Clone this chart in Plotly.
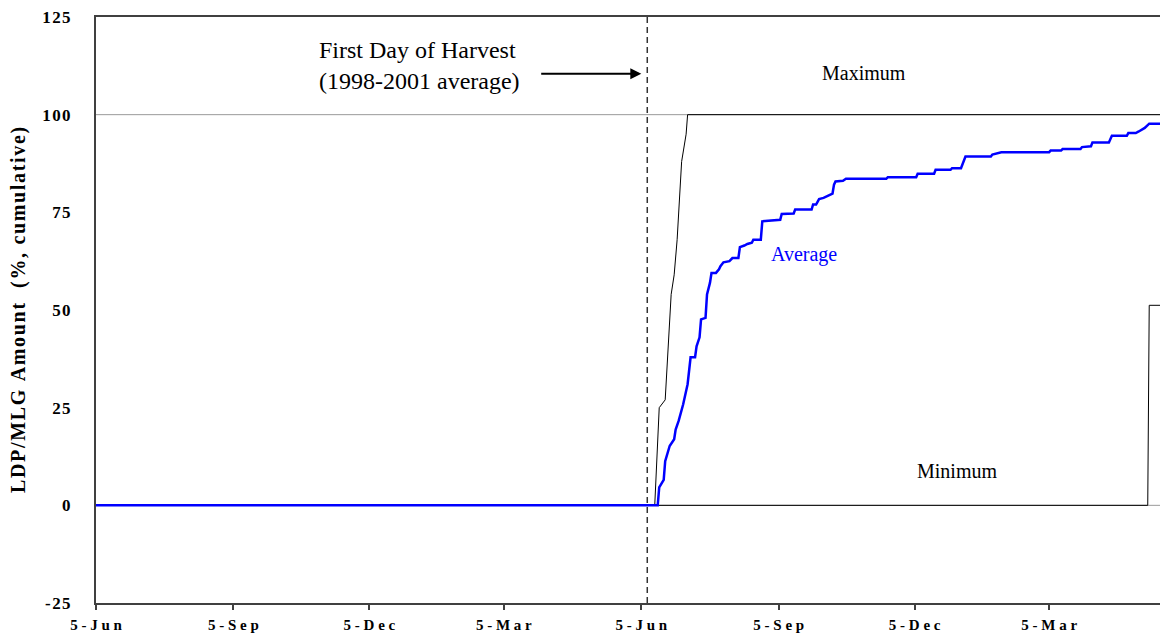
import plotly.graph_objects as go

# ---------------- data ----------------
avg_dates = ["2001-06-05", "2002-06-16", "2002-06-17", "2002-06-20", "2002-06-21", "2002-06-24",
             "2002-06-27", "2002-06-28", "2002-06-30", "2002-07-03", "2002-07-06", "2002-07-07",
             "2002-07-08", "2002-07-11", "2002-07-12", "2002-07-14", "2002-07-15", "2002-07-18",
             "2002-07-19", "2002-07-21", "2002-07-22", "2002-07-25", "2002-07-27", "2002-07-28",
             "2002-07-30", "2002-08-03", "2002-08-05", "2002-08-09", "2002-08-10", "2002-08-13",
             "2002-08-15", "2002-08-18", "2002-08-19", "2002-08-24", "2002-08-25", "2002-09-06",
             "2002-09-07", "2002-09-15", "2002-09-16", "2002-09-27", "2002-09-28", "2002-09-30",
             "2002-10-02", "2002-10-05", "2002-10-08", "2002-10-11", "2002-10-12", "2002-10-13",
             "2002-10-18", "2002-10-20", "2002-11-16", "2002-11-17", "2002-12-06", "2002-12-07",
             "2002-12-18", "2002-12-19", "2002-12-29", "2002-12-30", "2003-01-05", "2003-01-08",
             "2003-01-25", "2003-01-26", "2003-02-01", "2003-03-05", "2003-03-06", "2003-03-13",
             "2003-03-14", "2003-03-26", "2003-03-27", "2003-04-02", "2003-04-03", "2003-04-14",
             "2003-04-16", "2003-04-26", "2003-04-27", "2003-05-02", "2003-05-04", "2003-05-08",
             "2003-05-11", "2003-05-19", "2003-05-20", "2003-05-24"]
avg_values = [0, 0, 4.6, 6.5, 11.3, 15.2,
              16.9, 19.4, 21.6, 25.8, 31.0, 35.3,
              37.9, 37.9, 40.7, 43.0, 47.6, 48.0,
              54.0, 57.0, 59.5, 59.5, 60.4, 61.2,
              62.2, 62.5, 63.3, 63.3, 66.1, 66.5,
              66.9, 67.2, 68.0, 68.0, 72.7, 73.1,
              74.6, 74.7, 75.7, 75.7, 77.0, 77.0,
              78.4, 78.7, 79.3, 79.8, 82.1, 82.9,
              83.1, 83.6, 83.6, 84.0, 84.0, 84.9,
              84.9, 85.9, 85.9, 86.3, 86.3, 89.3,
              89.3, 89.8, 90.4, 90.4, 90.8, 90.8,
              91.2, 91.2, 91.7, 91.9, 92.9, 92.9,
              94.6, 94.6, 95.3, 95.3, 95.7, 96.6,
              97.7, 97.7, 98.1, 98.1]

max_dates = ["2001-06-05", "2002-06-14", "2002-06-17", "2002-06-21", "2002-06-25", "2002-06-27",
             "2002-06-29", "2002-07-02", "2002-07-05", "2002-07-06", "2003-05-24"]
max_values = [0, 0, 25, 27, 54, 59, 68, 88, 95, 100, 100]

min_dates = ["2001-06-05", "2003-05-10", "2003-05-11", "2003-05-24"]
min_values = [0, 0, 51.2, 51.2]

harvest_date = "2002-06-09"

x_tick_dates = ["2001-06-05", "2001-09-05", "2001-12-05", "2002-03-05",
                "2002-06-05", "2002-09-05", "2002-12-05", "2003-03-05"]
x_tick_labels = ["5-Jun", "5-Sep", "5-Dec", "5-Mar", "5-Jun", "5-Sep", "5-Dec", "5-Mar"]
y_tick_values = [-25, 0, 25, 50, 75, 100, 125]
y_title = "LDP/MLG Amount  (%, cumulative)"

FONT = "Liberation Serif"
AXIS = "#404040"


def spaced(s, sep):
    return sep.join(list(s))


fig = go.Figure()

fig.add_trace(go.Scatter(x=min_dates, y=min_values, mode="lines",
                         line=dict(color="black", width=1), name="Minimum"))
fig.add_trace(go.Scatter(x=max_dates, y=max_values, mode="lines",
                         line=dict(color="black", width=1), name="Maximum"))
fig.add_trace(go.Scatter(x=avg_dates, y=avg_values, mode="lines",
                         line=dict(color="#0000FF", width=2.5), name="Average"))

# reference lines
fig.add_shape(type="line", xref="paper", x0=0, x1=1, yref="y", y0=100, y1=100,
              line=dict(color="#9a9a9a", width=1), layer="below")
fig.add_shape(type="line", xref="paper", x0=0, x1=1, yref="y", y0=0, y1=0,
              line=dict(color="#9a9a9a", width=1), layer="below")
fig.add_shape(type="line", xref="x", x0=harvest_date, x1=harvest_date, yref="paper", y0=0, y1=1,
              line=dict(color="#333333", width=1.5, dash="6px,4px"), layer="above")

# annotations
fig.add_annotation(x="2001-10-31", y=112.5, xref="x", yref="y", xanchor="left", yanchor="middle",
                   align="left", showarrow=False,
                   text="First Day of Harvest<br>(1998-2001 average)",
                   font=dict(family=FONT, size=24, color="black"))
fig.add_annotation(x="2002-06-05", y=110.5, ax="2002-03-29", ay=110.5, xref="x", yref="y",
                   axref="x", ayref="y", showarrow=True, arrowhead=2, arrowsize=1.1,
                   arrowwidth=2, arrowcolor="black", text="")
fig.add_annotation(x="2002-11-01", y=110.7, xref="x", yref="y", showarrow=False,
                   text="Maximum", font=dict(family=FONT, size=20, color="black"))
fig.add_annotation(x="2002-09-22", y=64.2, xref="x", yref="y", showarrow=False,
                   text="Average", font=dict(family=FONT, size=20, color="#0000FF"))
fig.add_annotation(x="2003-01-02", y=8.7, xref="x", yref="y", showarrow=False,
                   text="Minimum", font=dict(family=FONT, size=20, color="black"))
fig.add_annotation(x=-0.0733, y=0.5, xref="paper", yref="paper", xanchor="center", yanchor="middle",
                   showarrow=False, textangle=-90,
                   text="<b>" + spaced(y_title, "\u200a") + "</b>",
                   font=dict(family=FONT, size=20, color="black"))

fig.update_xaxes(type="date", range=["2001-06-05", "2003-05-18 05:00"],
                 showline=True, linecolor=AXIS, linewidth=2, mirror=True,
                 ticks="outside", ticklen=5, tickwidth=2, tickcolor=AXIS,
                 showgrid=False, zeroline=False,
                 tickvals=x_tick_dates,
                 ticktext=["<b>" + spaced(t, "\u2005") + "</b>" for t in x_tick_labels],
                 tickfont=dict(family=FONT, size=15, color="black"),
                 ticklabelstandoff=2, ticklabeloverflow="allow")
fig.update_yaxes(range=[-25, 125], showline=True, linecolor=AXIS, linewidth=2, mirror=False,
                 ticks="", showgrid=False, zeroline=False,
                 tickvals=y_tick_values,
                 ticktext=["<b>" + spaced(str(v), "\u200a") + "</b>" for v in y_tick_values],
                 tickfont=dict(family=FONT, size=17, color="black"),
                 ticklabelstandoff=20, ticklabeloverflow="allow")

fig.update_layout(width=1152, height=628, margin=dict(l=88, r=0, t=9, b=33, autoexpand=False),
                  plot_bgcolor="white", paper_bgcolor="white", showlegend=False,
                  font=dict(family=FONT))

fig.write_html("out.html")
